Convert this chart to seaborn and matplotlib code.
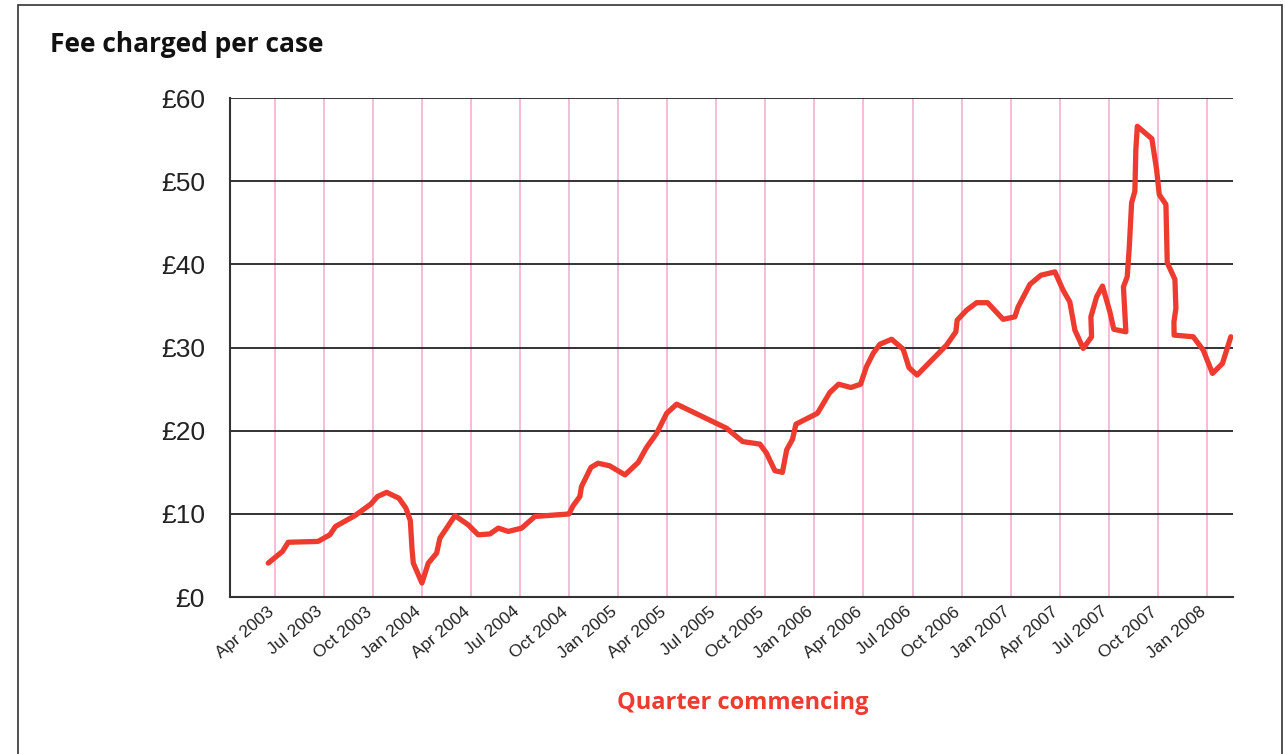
import matplotlib
matplotlib.use('Agg')
import matplotlib.pyplot as plt
import matplotlib.transforms as mtransforms
import seaborn as sns
from matplotlib.patches import Rectangle

# months since April 2003
months = [-0.41, 0.46, 0.81, 2.63, 3.36, 3.70, 4.89, 5.87, 6.27, 6.83,
          7.58, 8.01, 8.28, 8.38, 8.46, 8.99, 9.38, 9.89, 10.09, 11.01,
          11.82, 12.43, 13.15, 13.66, 14.27, 15.09, 15.90, 17.98, 18.24, 18.65,
          18.75, 19.33, 19.76, 20.46, 21.41, 22.22, 22.73, 23.35, 23.96, 24.57,
          27.63, 28.61, 29.66, 30.07, 30.58, 31.04, 31.30, 31.66, 31.87, 33.18,
          33.94, 34.48, 35.23, 35.82, 36.18, 36.59, 37.00, 37.72, 38.43, 38.78,
          39.28, 41.08, 41.65, 41.73, 42.31, 42.92, 43.59, 44.54, 45.26, 45.46,
          46.18, 46.85, 47.71, 48.21, 48.62, 48.93, 49.44, 49.95, 49.91, 50.26,
          50.62, 51.07, 51.31, 52.05, 51.90, 52.13, 52.25, 52.40, 52.60, 52.66,
          52.75, 53.64, 53.93, 54.09, 54.50, 54.58, 55.05, 55.11, 54.99, 55.00,
          56.17, 56.78, 57.35, 57.96, 58.47]

fee = [4.1, 5.5, 6.6, 6.7, 7.5, 8.5, 9.8, 11.2, 12.1, 12.6,
       11.9, 10.7, 9.2, 5.9, 4.1, 1.7, 4.1, 5.3, 7.1, 9.8,
       8.7, 7.5, 7.6, 8.3, 7.9, 8.3, 9.7, 10.0, 11.0, 12.1,
       13.3, 15.6, 16.1, 15.8, 14.7, 16.2, 18.0, 19.7, 22.1, 23.2,
       20.3, 18.7, 18.4, 17.3, 15.2, 15.0, 17.7, 19.0, 20.8, 22.1,
       24.6, 25.6, 25.2, 25.6, 27.7, 29.3, 30.4, 31.0, 29.8, 27.6,
       26.7, 30.3, 31.9, 33.3, 34.5, 35.4, 35.4, 33.4, 33.7, 34.9,
       37.6, 38.7, 39.1, 36.9, 35.5, 32.1, 29.9, 31.3, 33.7, 36.1,
       37.4, 34.3, 32.2, 31.9, 37.3, 38.5, 41.8, 47.4, 48.8, 53.8,
       56.6, 55.1, 51.4, 48.4, 47.2, 40.2, 38.2, 34.7, 33.1, 31.5,
       31.3, 29.7, 26.9, 28.1, 31.3]

quarter_labels = ['Apr 2003', 'Jul 2003', 'Oct 2003', 'Jan 2004', 'Apr 2004',
                  'Jul 2004', 'Oct 2004', 'Jan 2005', 'Apr 2005', 'Jul 2005',
                  'Oct 2005', 'Jan 2006', 'Apr 2006', 'Jul 2006', 'Oct 2006',
                  'Jan 2007', 'Apr 2007', 'Jul 2007', 'Oct 2007', 'Jan 2008']
quarter_pos = [3 * i for i in range(len(quarter_labels))]

y_ticks = [0, 10, 20, 30, 40, 50, 60]
y_labels = ['£0', '£10', '£20', '£30', '£40', '£50', '£60']

sns.set_style('white')
plt.rcParams['font.family'] = ['Liberation Sans', 'DejaVu Sans']

fig = plt.figure(figsize=(12.85, 7.54), dpi=100)
ax = fig.add_axes([0.179, 0.208, 0.7805, 0.662])

# quarter gridlines
for q in quarter_pos:
    ax.axvline(q, color='#f2aacb', lw=1.1, zorder=1)
# value gridlines
for v in y_ticks[1:]:
    ax.axhline(v, color='#222222', lw=1.3, zorder=1)

sns.lineplot(x=months, y=fee, ax=ax, sort=False, estimator=None,
             color='#ee3b30', lw=3.8, zorder=3)

ax.set_xlim(-2.75, 58.6)
ax.set_ylim(0, 60)
ax.set_xticks(quarter_pos)
ax.set_xticklabels(quarter_labels, rotation=40, ha='right',
                   rotation_mode='anchor', fontsize=12.5, color='#222222')
ax.set_yticks(y_ticks)
ax.set_yticklabels(y_labels, fontsize=19, color='#222222')
ax.tick_params(axis='both', length=0)
ax.tick_params(axis='y', pad=18)
ax.tick_params(axis='x', pad=5)

# nudge the rotated quarter labels a little left, like the original
shift = mtransforms.ScaledTranslation(-8 / 100, 0, fig.dpi_scale_trans)
for lbl in ax.get_xticklabels():
    lbl.set_transform(lbl.get_transform() + shift)

for side in ['top', 'right']:
    ax.spines[side].set_visible(False)
for side in ['left', 'bottom']:
    ax.spines[side].set_color('#333333')
    ax.spines[side].set_linewidth(1.5)

ax.set_xlabel('Quarter commencing', fontsize=17, fontweight='bold',
              color='#ee3b30', family=['Open Sans', 'DejaVu Sans'], va='center')
ax.xaxis.set_label_coords(0.511, -0.212)

fig.text(50 / 1285, 1 - 44 / 754, 'Fee charged per case', fontsize=19,
         fontweight='bold', va='center', ha='left', color='#111111',
         family=['Open Sans', 'DejaVu Sans'])

# outer frame
fig.patches.append(Rectangle((18 / 1285, -0.05), 1264 / 1285, 1.05 - 5 / 754,
                             transform=fig.transFigure, fill=False,
                             edgecolor='#333333', lw=1.2))

fig.savefig('out.png', dpi=100)
